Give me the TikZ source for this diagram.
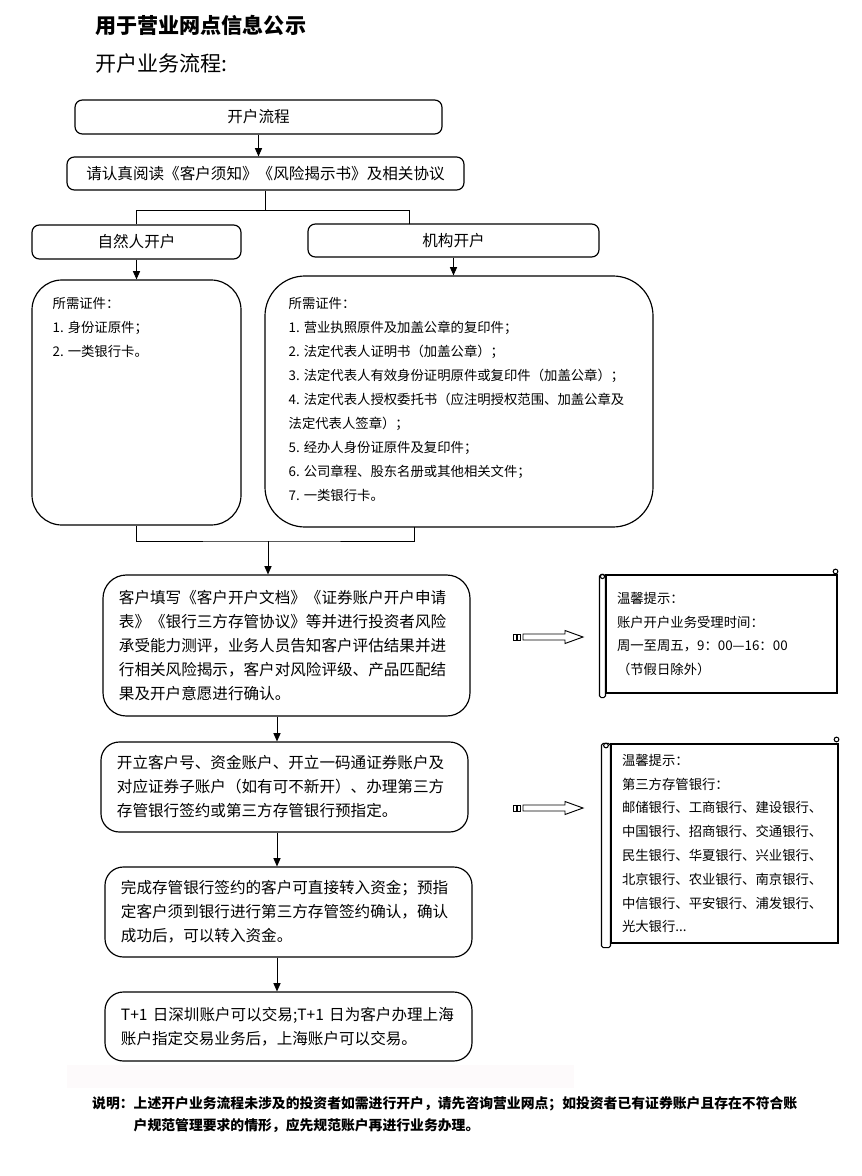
\documentclass[tikz,border=0pt]{standalone}
\usepackage{fontspec}
\setmainfont{Noto Sans CJK SC}
\usepackage{tikz}
\usetikzlibrary{arrows.meta}
\usetikzlibrary{calc}
\usetikzlibrary{positioning}

\begin{document}
\begin{tikzpicture}[x = 0.03cm, y = -0.03cm,
			box/.style = {draw, line width=1pt, rounded corners=0.22cm, inner sep=0pt, font=\fontsize{13.3}{16}\selectfont},
			stepbox/.style = {draw, line width=1pt, rounded corners=0.55cm, align=left, inner xsep=0.48cm, inner ysep=0pt, text width=10.05cm, font=\fontsize{13.3}{20.5}\selectfont},
			docbox/.style = {draw, line width=1pt, inner sep=0pt},
			small/.style = {align=left, inner sep=0pt, font=\fontsize{11.4}{20.5}\selectfont},
			tipbox/.style = {draw, line width=0.9pt, align=left, inner xsep=0.33cm, inner ysep=0pt, font=\fontsize{11.4}{20.3}\selectfont},
			scroll/.style = {line width=0.9pt},
			joinline/.style = {line width=0.8pt},
			flowarrow/.style = {line width=0.8pt, -{Triangle[length=7pt, width=6pt]}}
		]
			 	\useasboundingbox (0, 0) rectangle (861, 1176);
			 	
			 	% Titles
			 	\node[anchor=west, inner sep=0pt, font=\fontsize{18}{20}\selectfont\bfseries] (title) at (95, 25) {用于营业网点信息公示};
			 	\node[anchor=west, inner sep=0pt, font=\fontsize{18}{20}\selectfont] (subtitle) at (95, 63) {开户业务流程:};
			 	
			 	% Nodes
			 	\node[box, minimum width=11.01cm, minimum height=1.02cm] (flow) at (258.5, 117) {开户流程};
			 	\node[box, minimum width=11.91cm, minimum height=0.99cm] (read) at (265.5, 173.5) {请认真阅读《客户须知》《风险揭示书》及相关协议};
			 	\node[box, minimum width=6.27cm, minimum height=1.02cm] (natural) at (136.5, 242) {自然人开户};
			 	\node[box, minimum width=8.73cm, minimum height=0.99cm] (org) at (453.5, 240.5) {机构开户};
			 	
			 	\node[docbox, rounded corners=0.9cm, minimum width=6.27cm, minimum height=7.35cm] (leftdoc) at (136.5, 402.5) {};
			 	\node[small, anchor=north west] (lefttext) at ($(leftdoc.north west)+(21, 18)$) {所需证件：\\1. 身份证原件；\\2. 一类银行卡。};
			 	\node[docbox, rounded corners=1.2cm, minimum width=11.64cm, minimum height=7.53cm] (rightdoc) at (459, 401.5) {};
			 	\node[small, anchor=north west] (righttext) at ($(rightdoc.north west)+(24, 22)$) {所需证件：\\1. 营业执照原件及加盖公章的复印件；\\2. 法定代表人证明书（加盖公章）；\\3. 法定代表人有效身份证明原件或复印件（加盖公章）；\\4. 法定代表人授权委托书（应注明授权范围、加盖公章及\\法定代表人签章）；\\5. 经办人身份证原件及复印件；\\6. 公司章程、股东名册或其他相关文件；\\7. 一类银行卡。};
			 	
			 	\node[stepbox, rounded corners=0.7cm, minimum height=4.23cm] (fill) at (286.5, 645.5) {客户填写《客户开户文档》《证券账户开户申请\\表》《银行三方存管协议》等并进行投资者风险\\承受能力测评，业务人员告知客户评估结果并进\\行相关风险揭示，客户对风险评级、产品匹配结\\果及开户意愿进行确认。};
			 	\node[stepbox, minimum height=2.7cm] (open) at (284.5, 787) {开立客户号、资金账户、开立一码通证券账户及\\对应证券子账户（如有可不新开）、办理第三方\\存管银行签约或第三方存管银行预指定。};
			 	\node[stepbox, minimum height=2.7cm] (fund) at (288.5, 912) {完成存管银行签约的客户可直接转入资金；预指\\定客户须到银行进行第三方存管签约确认，确认\\成功后，可以转入资金。};
			 	\node[stepbox, minimum height=2.07cm] (trade) at (288.5, 1026.5) {T+1 日深圳账户可以交易;T+1 日为客户办理上海\\账户指定交易业务后，上海账户可以交易。};
			 	
			 	% Tips
			 	\node[tipbox, text width=6.27cm, minimum width=6.93cm, minimum height=3.54cm] (tip1) at (721.5, 634) {温馨提示：\\账户开户业务受理时间：\\周一至周五，9：00—16：00\\（节假日除外）};
			 	\draw[scroll, rounded corners=1.5pt] ($(tip1.north west)+(-6, 0)$) rectangle ($(tip1.south west)+(0, 4)$);
			 	\draw[scroll] ($(tip1.north west)+(-3, 2)$) circle[radius=1.8pt];
			 	\draw[scroll] ($(tip1.north east)+(-2, -3)$) circle[radius=2pt];
			 	
			 	\node[tipbox, text width=6.15cm, minimum width=6.81cm, minimum height=5.97cm] (tip2) at (724.5, 843.5) {温馨提示：\\第三方存管银行：\\邮储银行、工商银行、建设银行、\\中国银行、招商银行、交通银行、\\民生银行、华夏银行、兴业银行、\\北京银行、农业银行、南京银行、\\中信银行、平安银行、浦发银行、\\光大银行...};
			 	\draw[scroll, rounded corners=1.5pt] ($(tip2.north west)+(-9, 0)$) rectangle ($(tip2.south west)+(0, 4)$);
			 	\draw[scroll] ($(tip2.north west)+(-4.5, 2)$) circle[radius=2pt];
			 	\draw[scroll] ($(tip2.north east)+(-2, -4)$) circle[radius=2pt];
			 	
			 	% Hollow arrows
			 	\foreach \yy in {637, 808} {
			 		\draw[line width=0.7pt] (513, \yy-3) rectangle (516, \yy+3);
			 		\draw[line width=0.7pt] (517.5, \yy-3) rectangle (520.5, \yy+3);
			 		\draw[line width=0.8pt] (523, \yy-3) -- (565, \yy-3) -- (565, \yy-6.5) -- (583, \yy) -- (565, \yy+6.5) -- (565, \yy+3) -- (523, \yy+3) -- cycle;
			 	}
			 	
			 	% Edges
			 	\coordinate (orgin) at (409, 224);
			 	\coordinate (merge) at (268, 541);
			 	\coordinate (rjoin) at (414, 527);
			 	\coordinate (spine) at (277, 0);
			 	\draw[flowarrow] (flow.south) -- (flow.south |- read.north);
			 	\draw[joinline] (read.south) -- ++(0, 20) coordinate (fork);
			 	\draw[joinline] (natural.north) |- (fork) -| (orgin);
			 	\draw[flowarrow] (natural.south) -- (leftdoc.north);
			 	\draw[flowarrow] (org.south) -- (org.south |- rightdoc.north);
			 	\draw[joinline] (leftdoc.south) |- (merge) -| (rjoin);
			 	\draw[flowarrow] (merge) -- (merge |- fill.north);
			 	\draw[flowarrow] (spine |- fill.south) -- (spine |- open.north);
			 	\draw[flowarrow] (spine |- open.south) -- (spine |- fund.north);
			 	\draw[flowarrow] (spine |- fund.south) -- (spine |- trade.north);
			 	
			 	% Note
			 	\fill[fill={rgb,255:red,253;green,250;blue,251}] (67, 1065) rectangle (574, 1088);
			 	\node[anchor=west, align=left, inner sep=0pt, font=\fontsize{11.8}{18.8}\selectfont\bfseries] (note) at (92, 1115) {说明：上述开户业务流程未涉及的投资者如需进行开户，请先咨询营业网点；如投资者已有证券账户且存在不符合账\\\hspace*{3em}户规范管理要求的情形，应先规范账户再进行业务办理。};
			\end{tikzpicture}
\end{document}
